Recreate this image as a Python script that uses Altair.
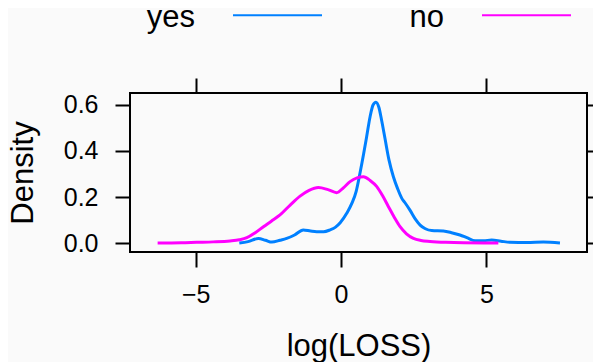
import altair as alt
import pandas as pd

groups = ["yes", "no"]
colors = ["#0080ff", "#ff00ff"]

yes_x = [-3.50, -3.2, -2.84, -2.6, -2.38, -2.1, -1.87, -1.6, -1.30, -1.05, -0.84, -0.6, -0.38,
         -0.2, -0.03, 0.2, 0.37, 0.52, 0.65, 0.78, 0.88, 1.0, 1.1, 1.2, 1.3, 1.4, 1.51, 1.65,
         1.80, 1.95, 2.09, 2.2, 2.37, 2.55, 2.72, 2.9, 3.12, 3.52, 3.8, 4.09, 4.35, 4.61, 4.9,
         5.18, 5.5, 5.81, 6.4, 6.96, 7.53]
yes_y = [0.000, 0.006, 0.020, 0.012, 0.004, 0.012, 0.020, 0.035, 0.057, 0.052, 0.049, 0.049, 0.057,
         0.068, 0.088, 0.130, 0.172, 0.225, 0.303, 0.390, 0.462, 0.550, 0.600, 0.612, 0.590, 0.530,
         0.455, 0.360, 0.288, 0.235, 0.194, 0.175, 0.143, 0.105, 0.078, 0.062, 0.054, 0.052, 0.045,
         0.035, 0.022, 0.010, 0.010, 0.013, 0.008, 0.003, 0.002, 0.004, 0.000]

no_x = [-6.31, -5.5, -4.97, -4.4, -3.82, -3.5, -3.24, -2.95, -2.67, -2.4, -2.10, -1.75, -1.41,
        -1.1, -0.78, -0.45, -0.15, 0.08, 0.31, 0.55, 0.77, 1.0, 1.23, 1.43, 1.63, 1.83, 2.03,
        2.25, 2.49, 2.75, 3.06, 3.6, 4.21, 5.41]
no_y = [0.000, 0.001, 0.003, 0.005, 0.009, 0.014, 0.023, 0.045, 0.071, 0.095, 0.122, 0.165, 0.204,
        0.229, 0.241, 0.232, 0.219, 0.240, 0.267, 0.283, 0.288, 0.272, 0.245, 0.205, 0.158, 0.112,
        0.071, 0.040, 0.020, 0.011, 0.007, 0.003, 0.001, 0.000]

x_ticks = [-5, 0, 5]
y_ticks = [0.0, 0.2, 0.4, 0.6]

df = pd.concat([
    pd.DataFrame({"x": yes_x, "y": yes_y, "group": "yes", "order": range(len(yes_x))}),
    pd.DataFrame({"x": no_x, "y": no_y, "group": "no", "order": range(len(no_x))}),
])

FONT = "Liberation Sans"
x_scale = alt.Scale(domain=[-7.26, 8.46], nice=False, zero=False)
y_scale = alt.Scale(domain=[-0.039, 0.652], nice=False, zero=False)

base = alt.Chart(df)

lines = base.mark_line(strokeWidth=3, interpolate="monotone").encode(
    x=alt.X("x:Q", scale=x_scale,
            axis=alt.Axis(orient="bottom", values=x_ticks, title="log(LOSS)", format="d",
                          domain=False, grid=False, tickSize=15, tickWidth=2, tickColor="black",
                          labelFontSize=25, labelPadding=15, labelColor="black", labelFont=FONT,
                          titleFontSize=31, titleFontWeight="normal", titleColor="black",
                          titleFont=FONT, titlePadding=24)),
    y=alt.Y("y:Q", scale=y_scale,
            axis=alt.Axis(orient="left", values=y_ticks, title="Density", format=".1f",
                          domain=False, grid=False, tickSize=15, tickWidth=2, tickColor="black",
                          labelFontSize=25, labelPadding=17, labelColor="black", labelFont=FONT,
                          titleFontSize=31, titleFontWeight="normal", titleColor="black",
                          titleFont=FONT, titlePadding=24)),
    color=alt.Color("group:N", sort=groups,
                    scale=alt.Scale(domain=groups, range=colors),
                    legend=alt.Legend(orient="none", legendX=102, legendY=-112, direction="horizontal",
                                      title=None, symbolType="M-1,-0.26L1,-0.26",
                                      symbolSize=7921, symbolStrokeWidth=2,
                                      labelAlign="right", labelBaseline="alphabetic",
                                      labelOffset={"expr": "-128"},
                                      labelFontSize=31, labelFont=FONT, labelColor="black",
                                      columnPadding=83)),
    order="order:Q",
)

frame = base.mark_point(opacity=0).encode(
    x=alt.X("x:Q", scale=x_scale,
            axis=alt.Axis(orient="top", values=x_ticks, labels=False, title=None, domain=False,
                          grid=False, tickSize=15, tickWidth=2, tickColor="black")),
    y=alt.Y("y:Q", scale=y_scale,
            axis=alt.Axis(orient="right", values=y_ticks, labels=False, title=None, domain=False,
                          grid=False, tickSize=15, tickWidth=2, tickColor="black")),
)

chart = alt.layer(lines, frame).resolve_axis(x="independent", y="independent").properties(
    width=457, height=159,
    autosize=alt.AutoSizeParams(type="none"),
    padding={"left": 122, "top": 85, "right": 6, "bottom": 110},
    background="#fafafa",
).configure_view(stroke="black", strokeWidth=2)

chart.save("out.html", embed_options={"renderer": "svg", "actions": False})
